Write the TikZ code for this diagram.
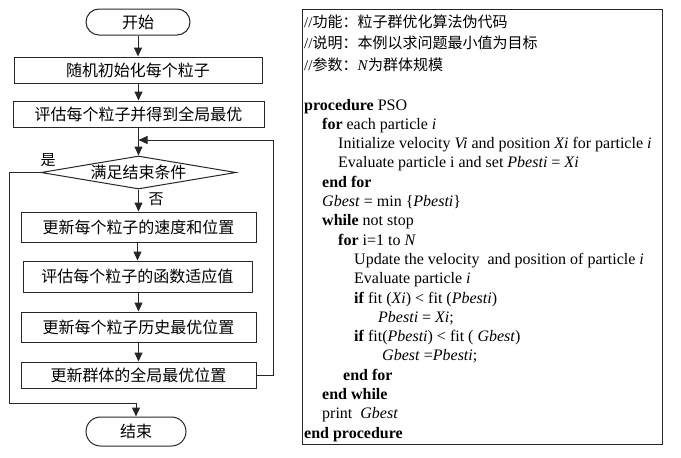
\documentclass[tikz,border=0pt]{standalone}
\usepackage{fontspec}
\setmainfont{Liberation Serif}
\newfontfamily\cjk{Noto Sans CJK SC}
\usetikzlibrary{arrows.meta,shapes.geometric}
\tikzset{
  box/.style={draw=black!85,line width=1pt,inner sep=0pt,font=\cjk\fontsize{16}{18}\selectfont},
  term/.style={box,rounded corners=13pt},
  arr/.style={draw=black!85,line width=1pt,-{Triangle[width=8pt,length=9pt]}},
  ln/.style={draw=black!85,line width=1pt},
  code/.style={anchor=base west,inner sep=0pt,font=\fontsize{16}{18}\selectfont},
  ccode/.style={anchor=base west,inner sep=0pt,font=\fontsize{15}{17}\selectfont},
  lbl/.style={inner sep=0pt,font=\cjk\fontsize{15}{17}\selectfont}
}
\begin{document}
\begin{tikzpicture}[x=1pt,y=-1pt]
\useasboundingbox (0,0) rectangle (681,458);
% flowchart
\node[term,minimum width=104pt,minimum height=26pt] (start) at (138,22) {开始};
\node[box,minimum width=248pt,minimum height=26pt] (b1) at (138,70) {随机初始化每个粒子};
\node[box,minimum width=251pt,minimum height=26pt] (b2) at (138.5,114) {评估每个粒子并得到全局最优};
\node[draw=black!85,line width=1pt,diamond,inner sep=0pt,minimum width=195pt,minimum height=33pt,
  label={[lbl,font=\cjk\fontsize{16}{18}\selectfont]center:满足结束条件}] (cond) at (138.5,172.5) {};
\node[box,minimum width=235pt,minimum height=30pt] (b3) at (138.5,227) {更新每个粒子的速度和位置};
\node[box,minimum width=229pt,minimum height=31pt] (b4) at (137.5,276.5) {评估每个粒子的函数适应值};
\node[box,minimum width=235pt,minimum height=30pt] (b5) at (138.5,327) {更新每个粒子历史最优位置};
\node[box,minimum width=235pt,minimum height=26pt] (b6) at (138.5,375) {更新群体的全局最优位置};
\node[term,minimum width=100pt,minimum height=29pt,rounded corners=14.5pt] (stop) at (136,431.5) {结束};
\node[lbl] (yes) at (48,160) {是};
\node[lbl] (no) at (156,199) {否};
\coordinate (fbR) at (273,140);
\coordinate (fbIn) at (138.5,140);
\coordinate (lp) at (9,403);
\draw[arr] (start.south) -- (b1.north);
\draw[arr] (b1.south -| b2.north) -- (b2.north);
\draw[arr] (b2.south) -- (cond.north);
\draw[arr] (cond.south) -- (b3.north);
\draw[arr] (b3.south -| b4.north) -- (b4.north);
\draw[arr] (b4.south -| b5.north) -- (b5.north);
\draw[arr] (b5.south) -- (b6.north);
\draw[arr] (b6.east) -| (fbR) -- (fbIn);
\draw[arr] (cond.west) -| (lp) -| (stop.north);
% pseudocode panel
\node[draw=black!85,line width=1pt,inner sep=0pt,minimum width=360pt,minimum height=435pt] (panel) at (482,226.5) {};
\node[ccode] (c1) at (304,27) {//{\cjk 功能：粒子群优化算法伪代码}};
\node[ccode] (c2) at (304,48.5) {//{\cjk 说明：本例以求问题最小值为目标}};
\node[ccode] (c3) at (304,70) {//{\cjk 参数：}\textit{N}{\cjk 为群体规模}};
\node[code] (l1) at (304,110) {\textbf{procedure} PSO};
\node[code] (l2) at (322,129.3) {\textbf{for} each particle \textit{i}};
\node[code] (l3) at (338,148.6) {Initialize velocity \textit{Vi} and position \textit{Xi} for particle \textit{i}};
\node[code] (l4) at (338,167.9) {Evaluate particle i and set \textit{Pbesti} = \textit{Xi}};
\node[code] (l5) at (322,187.2) {\textbf{end for}};
\node[code] (l6) at (322,206.5) {\textit{Gbest} = min \{\textit{Pbesti}\}};
\node[code] (l7) at (322,225.8) {\textbf{while} not stop};
\node[code] (l8) at (338,245.1) {\textbf{for} i=1 to \textit{N}};
\node[code] (l9) at (354,264.4) {Update the velocity \ and position of particle \textit{i}};
\node[code] (l10) at (354,283.7) {Evaluate particle \textit{i}};
\node[code] (l11) at (354,303) {\textbf{if} fit (\textit{Xi}) < fit (\textit{Pbesti})};
\node[code] (l12) at (378,322.3) {\textit{Pbesti} = \textit{Xi};};
\node[code] (l13) at (354,341.6) {\textbf{if} fit(\textit{Pbesti}) < fit ( \textit{Gbest})};
\node[code] (l14) at (382,360.9) {\textit{Gbest} =\textit{Pbesti};};
\node[code] (l15) at (343,380.2) {\textbf{end for}};
\node[code] (l16) at (322,399.5) {\textbf{end while}};
\node[code] (l17) at (322,418.8) {print \ \textit{Gbest}};
\node[code] (l18) at (304,438.1) {\textbf{end procedure}};
\end{tikzpicture}
\end{document}
